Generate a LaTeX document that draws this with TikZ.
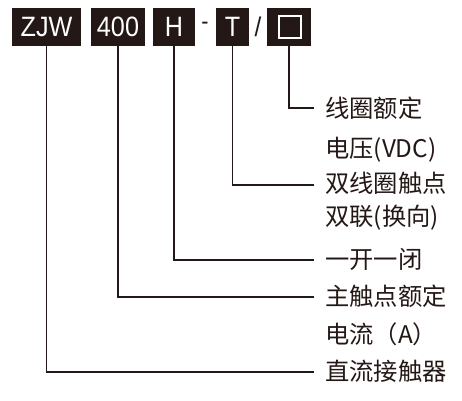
\documentclass[tikz,border=0pt]{standalone}
\usepackage{fontspec}
\newfontfamily\cjk{Noto Sans CJK SC}
\newfontfamily\boxfont[FakeStretch=0.9]{Liberation Sans}
\definecolor{ink}{HTML}{231815}
\begin{document}
\begin{tikzpicture}[x=1pt,y=-1pt,
  codebox/.style={fill=ink,text=white,inner sep=0pt,minimum height=38pt,font=\boxfont\fontsize{28}{28}\selectfont},
  lbl/.style={anchor=west,inner sep=0pt,text=ink,font=\cjk\fontsize{24.3}{25}\selectfont},
  conn/.style={draw=ink,line width=1.7pt}]
\useasboundingbox (0,0) rectangle (462,400);
\node[codebox,minimum width=69pt] (zjw) at (46.5,27) {ZJW};
\node[codebox,minimum width=54pt] (n400) at (118,27) {400};
\node[codebox,minimum width=42pt] (h) at (174,27) {H};
\node[inner sep=0pt,text=ink,font=\boxfont\fontsize{24}{24}\selectfont] (dash) at (205,26) {-};
\node[codebox,minimum width=33pt] (t) at (232.5,27) {T};
\node[inner sep=0pt,text=ink,font=\boxfont\fontsize{27}{27}\selectfont] (slash) at (258,27) {/};
\node[codebox,minimum width=44pt] (sq) at (289,27) {};
\node[draw=white,line width=1.8pt,minimum width=22pt,minimum height=22pt,inner sep=0pt] (sqin) at (290,27) {};
% labels
\node[lbl] (l1) at (325,108) {线圈额定};
\node[lbl] (l1b) at (325,150) {电压(VDC)};
\node[lbl] (l2) at (325,183) {双线圈触点};
\node[lbl] (l2b) at (325,218) {双联(换向)};
\node[lbl] (l3) at (325,259) {一开一闭};
\node[lbl] (l4) at (325,296) {主触点额定};
\node[lbl] (l4b) at (325,334) {电流（A）};
\node[lbl] (l5) at (325,371) {直流接触器};
% connectors
\draw[conn] (sq.south) |- ([xshift=-11pt]l1.west);
\draw[conn] (t.south) |- ([xshift=-11pt,yshift=-2pt]l2.west);
\draw[conn] (h.south) |- ([xshift=-11pt,yshift=-1pt]l3.west);
\draw[conn] (n400.south) |- ([xshift=-11pt,yshift=-1pt]l4.west);
\draw[conn] (zjw.south) |- ([xshift=-11pt,yshift=-1pt]l5.west);
\end{tikzpicture}
\end{document}
